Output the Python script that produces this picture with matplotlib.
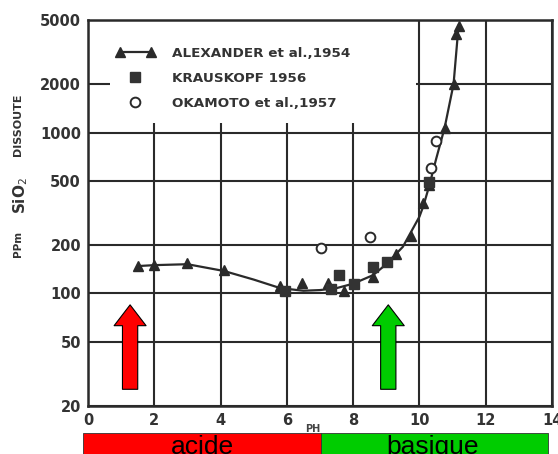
import matplotlib
matplotlib.use("Agg")
import matplotlib.pyplot as plt
from matplotlib.lines import Line2D
from matplotlib.legend_handler import HandlerLine2D
from matplotlib.patches import Rectangle, FancyArrowPatch

# ---- data ----
alex_ph = [1.5, 2.0, 3.0, 4.1, 5.8, 6.45, 7.24, 7.73, 8.6, 9.3, 9.76, 10.12, 10.3, 10.76, 11.03, 11.1, 11.18]
alex_si = [148, 150, 154, 139, 112, 117, 117, 104, 127, 177, 229, 367, 470, 1070, 2000, 4120, 4600]

kraus_ph = [5.95, 7.33, 7.58, 8.03, 8.6, 9.03, 10.3]
kraus_si = [103, 106, 131, 115, 147, 156, 490]

oka_ph = [7.03, 8.5, 10.36, 10.5]
oka_si = [193, 223, 606, 890]

curve_ph = [1.5, 2.0, 3.0, 4.1, 5.0, 5.8, 6.5, 7.0, 7.5, 8.0, 8.6, 9.0, 9.5, 10.0, 10.12, 10.3, 10.5, 10.76, 11.03, 11.18]
curve_si = [148, 150, 152, 138, 122, 108, 104, 105, 108, 115, 130, 152, 195, 300, 350, 470, 680, 1070, 2000, 4600]

x_ticks = [0, 2, 4, 6, 8, 10, 12, 14]
y_ticks = [20, 50, 100, 200, 500, 1000, 2000, 5000]

legend_labels = ["ALEXANDER et al.,1954", "KRAUSKOPF 1956", "OKAMOTO et al.,1957"]
axis_label_parts = ["PPm", "SiO$_2$", "DISSOUTE"]
x_label = "PH"
zone_labels = ["acide", "basique"]
zone_colors = ["#ff0000", "#00cc00"]

ink = "#2a2a2a"

W, H = 558, 454
fig = plt.figure(figsize=(W / 100, H / 100), dpi=100)
fig.patch.set_facecolor("white")

def fx(px):
    return px / W

def fy(py):
    return 1 - py / H

ax = fig.add_axes([fx(88), fy(406), fx(552) - fx(88), fy(20) - fy(406)])
ax.set_yscale("log")
ax.set_xlim(0, 14)
ax.set_ylim(20, 5000)
ax.set_xticks(x_ticks)
ax.set_xticklabels([str(t) for t in x_ticks])
ax.set_yticks(y_ticks)
ax.set_yticklabels([str(t) for t in y_ticks])
ax.minorticks_off()
ax.tick_params(length=0, pad=5, labelsize=10.5, colors=ink)
for lab in ax.get_xticklabels() + ax.get_yticklabels():
    lab.set_fontweight("bold")
    lab.set_color("#333333")
ax.set_axisbelow(True)
ax.grid(True, color=ink, linewidth=1.5)
for s in ax.spines.values():
    s.set_color(ink)
    s.set_linewidth(1.8)

# blank area behind the legend
ax.add_patch(Rectangle((0.67, 1140), 9.9 - 0.67, 5000 - 1140, facecolor="white",
                       edgecolor="none", zorder=1))

# curve and data
ax.plot(curve_ph, curve_si, color=ink, linewidth=1.6, zorder=3)
ax.plot(alex_ph, alex_si, linestyle="none", marker="^", markersize=7, color=ink, zorder=4)
ax.plot(kraus_ph, kraus_si, linestyle="none", marker="s", markersize=7, color="#333333", zorder=4)
ax.plot(oka_ph, oka_si, linestyle="none", marker="o", markersize=7, markerfacecolor="white",
        markeredgecolor=ink, markeredgewidth=1.4, zorder=4)

# legend
h1 = Line2D([], [], color=ink, marker="^", markersize=7, linewidth=1.6)
h2 = Line2D([], [], color="#333333", marker="s", markersize=7, linestyle="none")
h3 = Line2D([], [], color=ink, marker="o", markersize=7, markerfacecolor="white",
            markeredgewidth=1.4, linestyle="none")
leg = ax.legend([h1, h2, h3], legend_labels, loc="upper left", bbox_to_anchor=(0.034, 0.962),
                frameon=False, handlelength=2.9, handletextpad=1.25, labelspacing=0.9,
                prop={"size": 9.7, "weight": "bold"},
                handler_map={h1: HandlerLine2D(numpoints=2), h2: HandlerLine2D(numpoints=1),
                             h3: HandlerLine2D(numpoints=1)})
for t in leg.get_texts():
    t.set_color("#333333")

# arrows
for xc, col in [(1.27, zone_colors[0]), (9.06, zone_colors[1])]:
    arr = FancyArrowPatch((xc, 25.4), (xc, 85),
                          arrowstyle="simple,head_width=23,head_length=15,tail_width=11",
                          mutation_scale=1, shrinkA=0, shrinkB=0,
                          facecolor=col, edgecolor="black", linewidth=0.8, zorder=5)
    ax.add_patch(arr)

# y label parts
fig.text(fx(18), fy(244), axis_label_parts[0], rotation=90, ha="center", va="center",
         fontsize=7.5, fontweight="bold", color="#333333")
fig.text(fx(21), fy(195), axis_label_parts[1], rotation=90, ha="center", va="center",
         fontsize=11, fontweight="bold", color="#333333")
fig.text(fx(18), fy(125), axis_label_parts[2], rotation=90, ha="center", va="center",
         fontsize=8, fontweight="bold", color="#333333")

# x label
fig.text(fx(313), fy(429), x_label, ha="center", va="center", fontsize=7,
         fontweight="bold", color="#444444")

# zone bars
bar_ax = fig.add_axes([0, 0, 1, 1], zorder=-1)
bar_ax.set_xlim(0, W)
bar_ax.set_ylim(H, 0)
bar_ax.axis("off")
zone_edges = [83, 321, 548]
for i in range(2):
    bar_ax.add_patch(Rectangle((zone_edges[i], 433), zone_edges[i + 1] - zone_edges[i], 40,
                               facecolor=zone_colors[i], edgecolor="#333333", linewidth=0.6))
    bar_ax.text((zone_edges[i] + zone_edges[i + 1]) / 2 + (0 if i == 0 else -2), 454,
                zone_labels[i], ha="center", va="baseline", fontsize=19,
                family="Liberation Sans", color="black")

fig.savefig("out.png", dpi=100, facecolor="white")
